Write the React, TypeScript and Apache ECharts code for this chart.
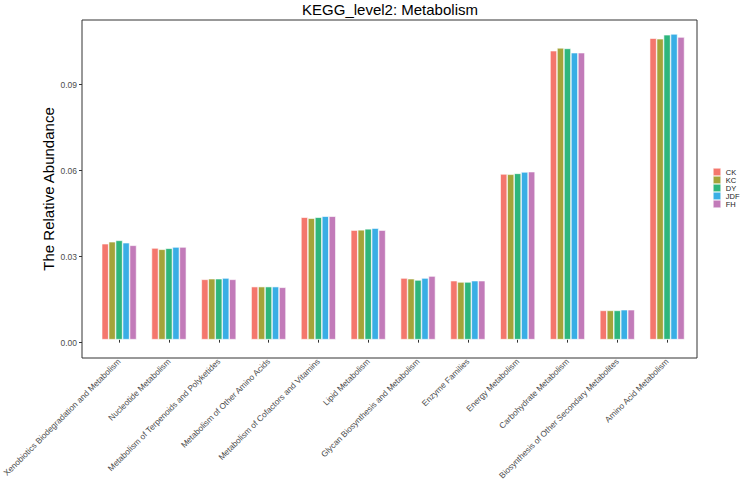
import React, { useEffect, useRef } from "react";
import * as echarts from "echarts";

const categories = [
  "Xenobiotics Biodegradation and Metabolism",
  "Nucleotide Metabolism",
  "Metabolism of Terpenoids and Polyketides",
  "Metabolism of Other Amino Acids",
  "Metabolism of Cofactors and Vitamins",
  "Lipid Metabolism",
  "Glycan Biosynthesis and Metabolism",
  "Enzyme Families",
  "Energy Metabolism",
  "Carbohydrate Metabolism",
  "Biosynthesis of Other Secondary Metabolites",
  "Amino Acid Metabolism",
];

const groups = ["CK", "KC", "DY", "JDF", "FH"];
const colors = ["#F4776D", "#A3A43A", "#2EB67D", "#39AEE5", "#C27BB9"];

const CK = [0.03376, 0.03226, 0.02122, 0.01866, 0.04308, 0.03854, 0.02169, 0.02075, 0.05832, 0.1017, 0.01029, 0.1061];
const KC = [0.03446, 0.0318, 0.02145, 0.01866, 0.04273, 0.03865, 0.02145, 0.0203, 0.0582, 0.1027, 0.01029, 0.1059];
const DY = [0.03494, 0.03215, 0.02145, 0.01866, 0.04308, 0.039, 0.021, 0.0203, 0.05853, 0.1025, 0.01029, 0.1073];
const JDF = [0.03411, 0.03261, 0.02169, 0.01866, 0.04343, 0.03924, 0.02169, 0.02075, 0.05902, 0.101, 0.01053, 0.1076];
const FH = [0.0332, 0.03261, 0.02122, 0.01842, 0.04343, 0.03854, 0.02239, 0.02075, 0.05912, 0.101, 0.01053, 0.1065];
const seriesValues = [CK, KC, DY, JDF, FH];

const yTicks = [0, 0.03, 0.06, 0.09];
const Y_MIN = -0.0054;
const Y_MAX = 0.1125;

const FONT = "'Liberation Sans', Arial, sans-serif";

export default function App() {
  const ref = useRef<HTMLDivElement>(null);
  useEffect(() => {
    if (!ref.current) return;
    const chart = echarts.init(ref.current, undefined, { renderer: "svg" });
    chart.setOption({
      animation: false,
      backgroundColor: "#ffffff",
      title: {
        text: "KEGG_level2: Metabolism",
        left: 390,
        top: 2,
        padding: 0,
        textAlign: "center",
        textStyle: {
          fontSize: 15,
          fontWeight: "normal",
          color: "#000",
          fontFamily: "'Liberation Sans Narrow', 'Liberation Sans', Arial, sans-serif",
        },
      },
      legend: {
        orient: "vertical",
        left: 713,
        top: 168,
        padding: 0,
        itemWidth: 7.5,
        itemHeight: 7.5,
        itemGap: 0,
        icon: "rect",
        data: groups,
        itemStyle: { borderColor: "#ffffff", borderWidth: 0.5 },
        textStyle: { fontSize: 7.5, lineHeight: 7.5, color: "#222", fontFamily: FONT },
      },
      graphic: [
        {
          type: "text",
          x: 48,
          y: 189,
          rotation: Math.PI / 2,
          style: {
            text: "The Relative Abundance",
            fontSize: 15,
            fill: "#000",
            fontFamily: FONT,
            textAlign: "center",
            textVerticalAlign: "middle",
          },
        },
      ],
      grid: [
        { left: 82, right: 43, top: 20, bottom: 124, show: true, borderColor: "#333", borderWidth: 1, backgroundColor: "transparent" },
        { left: 87, right: 48, top: 20, bottom: 124 },
      ],
      xAxis: [
        { type: "value", gridIndex: 0, show: false, min: 0, max: 1 },
        {
          type: "category",
          gridIndex: 1,
          data: categories,
          axisLine: { show: false },
          axisTick: { show: true, length: 3, alignWithLabel: true, lineStyle: { color: "#333" } },
          axisLabel: {
            rotate: 45,
            fontSize: 8.3,
            color: "#4d4d4d",
            margin: 5,
            interval: 0,
            fontFamily: FONT,
          },
          splitLine: { show: false },
        },
      ],
      yAxis: [
        {
          type: "value",
          gridIndex: 0,
          min: Y_MIN,
          max: Y_MAX,
          axisLine: { show: false },
          axisTick: { show: true, length: 3, customValues: yTicks, lineStyle: { color: "#333" } },
          axisLabel: {
            customValues: yTicks,
            fontSize: 8.5,
            color: "#4d4d4d",
            margin: 5,
            fontFamily: FONT,
            formatter: (v: number) => v.toFixed(2),
          },
          splitLine: { show: false },
        },
        { type: "value", gridIndex: 1, min: Y_MIN, max: Y_MAX, show: false, splitLine: { show: false } },
      ],
      series: groups.map((g, i) => ({
        name: g,
        type: "bar",
        xAxisIndex: 1,
        yAxisIndex: 1,
        data: seriesValues[i],
        barGap: "0%",
        barCategoryGap: "30%",
        itemStyle: { color: colors[i], borderColor: "#ffffff", borderWidth: 0.6 },
      })),
    });
    return () => chart.dispose();
  }, []);
  return <div ref={ref} style={{ position: "fixed", left: 0, top: 0, width: 740, height: 482 }} />;
}
